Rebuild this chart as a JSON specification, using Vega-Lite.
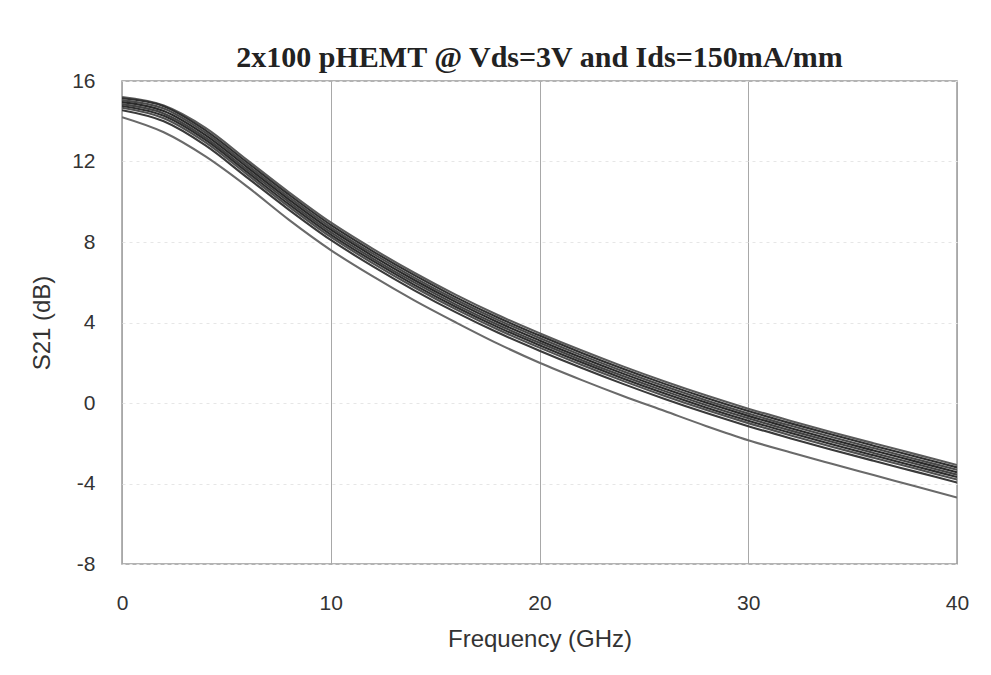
{
  "$schema": "https://vega.github.io/schema/vega-lite/v6.json",
  "width": 835,
  "height": 483,
  "autosize": {"type": "none"},
  "padding": {"left": 122, "top": 81, "right": 34, "bottom": 111},
  "background": "white",
  "title": {
    "text": "2x100 pHEMT @ Vds=3V and Ids=150mA/mm",
    "font": "Liberation Serif",
    "fontSize": 30,
    "fontWeight": "bold",
    "color": "#222222",
    "anchor": "middle",
    "offset": -3
  },
  "config": {
    "view": {"stroke": "#9a9a9a", "strokeWidth": 1.5},
    "axis": {
      "labelFont": "Liberation Sans",
      "titleFont": "Liberation Sans",
      "labelFontSize": 21,
      "titleFontSize": 24,
      "labelColor": "#333333",
      "titleColor": "#333333",
      "titleFontWeight": "normal",
      "labelFlush": false,
      "domain": false,
      "ticks": false,
      "labelExpr": "replace(datum.label, '−', '-')"
    }
  },
  "data": {
    "values": [
      {"f":0,"s":"a","v":15.20},{"f":2,"s":"a","v":14.78},{"f":4,"s":"a","v":13.67},{"f":6,"s":"a","v":12.07},{"f":8,"s":"a","v":10.47},{"f":10,"s":"a","v":8.97},{"f":12,"s":"a","v":7.67},{"f":14,"s":"a","v":6.47},{"f":16,"s":"a","v":5.37},{"f":18,"s":"a","v":4.37},{"f":20,"s":"a","v":3.47},{"f":22,"s":"a","v":2.62},{"f":24,"s":"a","v":1.82},{"f":26,"s":"a","v":1.07},{"f":28,"s":"a","v":0.37},{"f":30,"s":"a","v":-0.28},{"f":32,"s":"a","v":-0.88},{"f":34,"s":"a","v":-1.45},{"f":36,"s":"a","v":-2.00},{"f":38,"s":"a","v":-2.54},{"f":40,"s":"a","v":-3.08},
      {"f":0,"s":"b","v":15.14},{"f":2,"s":"b","v":14.75},{"f":4,"s":"b","v":13.55},{"f":6,"s":"b","v":11.95},{"f":8,"s":"b","v":10.35},{"f":10,"s":"b","v":8.85},{"f":12,"s":"b","v":7.55},{"f":14,"s":"b","v":6.35},{"f":16,"s":"b","v":5.25},{"f":18,"s":"b","v":4.25},{"f":20,"s":"b","v":3.35},{"f":22,"s":"b","v":2.50},{"f":24,"s":"b","v":1.70},{"f":26,"s":"b","v":0.95},{"f":28,"s":"b","v":0.25},{"f":30,"s":"b","v":-0.40},{"f":32,"s":"b","v":-1.00},{"f":34,"s":"b","v":-1.57},{"f":36,"s":"b","v":-2.12},{"f":38,"s":"b","v":-2.66},{"f":40,"s":"b","v":-3.20},
      {"f":0,"s":"c","v":15.05},{"f":2,"s":"c","v":14.63},{"f":4,"s":"c","v":13.43},{"f":6,"s":"c","v":11.83},{"f":8,"s":"c","v":10.23},{"f":10,"s":"c","v":8.73},{"f":12,"s":"c","v":7.43},{"f":14,"s":"c","v":6.23},{"f":16,"s":"c","v":5.13},{"f":18,"s":"c","v":4.13},{"f":20,"s":"c","v":3.23},{"f":22,"s":"c","v":2.38},{"f":24,"s":"c","v":1.58},{"f":26,"s":"c","v":0.83},{"f":28,"s":"c","v":0.13},{"f":30,"s":"c","v":-0.52},{"f":32,"s":"c","v":-1.12},{"f":34,"s":"c","v":-1.69},{"f":36,"s":"c","v":-2.24},{"f":38,"s":"c","v":-2.78},{"f":40,"s":"c","v":-3.32},
      {"f":0,"s":"d","v":14.95},{"f":2,"s":"d","v":14.51},{"f":4,"s":"d","v":13.31},{"f":6,"s":"d","v":11.71},{"f":8,"s":"d","v":10.11},{"f":10,"s":"d","v":8.61},{"f":12,"s":"d","v":7.31},{"f":14,"s":"d","v":6.11},{"f":16,"s":"d","v":5.01},{"f":18,"s":"d","v":4.01},{"f":20,"s":"d","v":3.11},{"f":22,"s":"d","v":2.26},{"f":24,"s":"d","v":1.46},{"f":26,"s":"d","v":0.71},{"f":28,"s":"d","v":0.01},{"f":30,"s":"d","v":-0.64},{"f":32,"s":"d","v":-1.24},{"f":34,"s":"d","v":-1.81},{"f":36,"s":"d","v":-2.36},{"f":38,"s":"d","v":-2.90},{"f":40,"s":"d","v":-3.44},
      {"f":0,"s":"e","v":14.85},{"f":2,"s":"e","v":14.39},{"f":4,"s":"e","v":13.19},{"f":6,"s":"e","v":11.59},{"f":8,"s":"e","v":9.99},{"f":10,"s":"e","v":8.49},{"f":12,"s":"e","v":7.19},{"f":14,"s":"e","v":5.99},{"f":16,"s":"e","v":4.89},{"f":18,"s":"e","v":3.89},{"f":20,"s":"e","v":2.99},{"f":22,"s":"e","v":2.14},{"f":24,"s":"e","v":1.34},{"f":26,"s":"e","v":0.59},{"f":28,"s":"e","v":-0.11},{"f":30,"s":"e","v":-0.76},{"f":32,"s":"e","v":-1.36},{"f":34,"s":"e","v":-1.93},{"f":36,"s":"e","v":-2.48},{"f":38,"s":"e","v":-3.02},{"f":40,"s":"e","v":-3.56},
      {"f":0,"s":"f","v":14.76},{"f":2,"s":"f","v":14.27},{"f":4,"s":"f","v":13.07},{"f":6,"s":"f","v":11.47},{"f":8,"s":"f","v":9.87},{"f":10,"s":"f","v":8.37},{"f":12,"s":"f","v":7.07},{"f":14,"s":"f","v":5.87},{"f":16,"s":"f","v":4.77},{"f":18,"s":"f","v":3.77},{"f":20,"s":"f","v":2.87},{"f":22,"s":"f","v":2.02},{"f":24,"s":"f","v":1.22},{"f":26,"s":"f","v":0.47},{"f":28,"s":"f","v":-0.23},{"f":30,"s":"f","v":-0.88},{"f":32,"s":"f","v":-1.48},{"f":34,"s":"f","v":-2.05},{"f":36,"s":"f","v":-2.60},{"f":38,"s":"f","v":-3.14},{"f":40,"s":"f","v":-3.68},
      {"f":0,"s":"g","v":14.67},{"f":2,"s":"g","v":14.15},{"f":4,"s":"g","v":12.95},{"f":6,"s":"g","v":11.35},{"f":8,"s":"g","v":9.75},{"f":10,"s":"g","v":8.25},{"f":12,"s":"g","v":6.95},{"f":14,"s":"g","v":5.75},{"f":16,"s":"g","v":4.65},{"f":18,"s":"g","v":3.65},{"f":20,"s":"g","v":2.75},{"f":22,"s":"g","v":1.90},{"f":24,"s":"g","v":1.10},{"f":26,"s":"g","v":0.35},{"f":28,"s":"g","v":-0.35},{"f":30,"s":"g","v":-1.00},{"f":32,"s":"g","v":-1.60},{"f":34,"s":"g","v":-2.17},{"f":36,"s":"g","v":-2.72},{"f":38,"s":"g","v":-3.26},{"f":40,"s":"g","v":-3.80},
      {"f":0,"s":"h","v":14.55},{"f":2,"s":"h","v":14.00},{"f":4,"s":"h","v":12.80},{"f":6,"s":"h","v":11.20},{"f":8,"s":"h","v":9.60},{"f":10,"s":"h","v":8.10},{"f":12,"s":"h","v":6.80},{"f":14,"s":"h","v":5.60},{"f":16,"s":"h","v":4.50},{"f":18,"s":"h","v":3.50},{"f":20,"s":"h","v":2.60},{"f":22,"s":"h","v":1.75},{"f":24,"s":"h","v":0.95},{"f":26,"s":"h","v":0.20},{"f":28,"s":"h","v":-0.50},{"f":30,"s":"h","v":-1.15},{"f":32,"s":"h","v":-1.75},{"f":34,"s":"h","v":-2.32},{"f":36,"s":"h","v":-2.87},{"f":38,"s":"h","v":-3.41},{"f":40,"s":"h","v":-3.95},
      {"f":0,"s":"low","v":14.20},{"f":2,"s":"low","v":13.45},{"f":4,"s":"low","v":12.25},{"f":6,"s":"low","v":10.75},{"f":8,"s":"low","v":9.10},{"f":10,"s":"low","v":7.60},{"f":12,"s":"low","v":6.30},{"f":14,"s":"low","v":5.10},{"f":16,"s":"low","v":4.00},{"f":18,"s":"low","v":2.95},{"f":20,"s":"low","v":2.00},{"f":22,"s":"low","v":1.15},{"f":24,"s":"low","v":0.35},{"f":26,"s":"low","v":-0.40},{"f":28,"s":"low","v":-1.15},{"f":30,"s":"low","v":-1.85},{"f":32,"s":"low","v":-2.45},{"f":34,"s":"low","v":-3.02},{"f":36,"s":"low","v":-3.58},{"f":38,"s":"low","v":-4.14},{"f":40,"s":"low","v":-4.70}
    ]
  },
  "mark": {"type": "line", "interpolate": "monotone", "strokeWidth": 2.1, "clip": true},
  "encoding": {
    "x": {
      "field": "f", "type": "quantitative", "title": "Frequency (GHz)",
      "scale": {"domain": [0, 40], "nice": false},
      "axis": {"values": [0, 10, 20, 30, 40], "labelPadding": 28, "titlePadding": 14, "gridColor": "#a8a8a8", "gridWidth": 1}
    },
    "y": {
      "field": "v", "type": "quantitative", "title": "S21 (dB)",
      "scale": {"domain": [-8, 16], "nice": false},
      "axis": {"values": [-8, -4, 0, 4, 8, 12, 16], "labelPadding": 27, "titlePadding": 17, "gridColor": "#e6e6e6", "gridDash": [3, 4], "gridWidth": 1}
    },
    "detail": {"field": "s"},
    "color": {
      "field": "s", "type": "nominal", "legend": null,
      "scale": {"domain": ["a","b","c","d","e","f","g","h","low"], "range": ["#5a5a5a","#303030","#4a4a4a","#2a2a2a","#444444","#2e2e2e","#505050","#3a3a3a","#6a6a6a"]}
    }
  }
}
